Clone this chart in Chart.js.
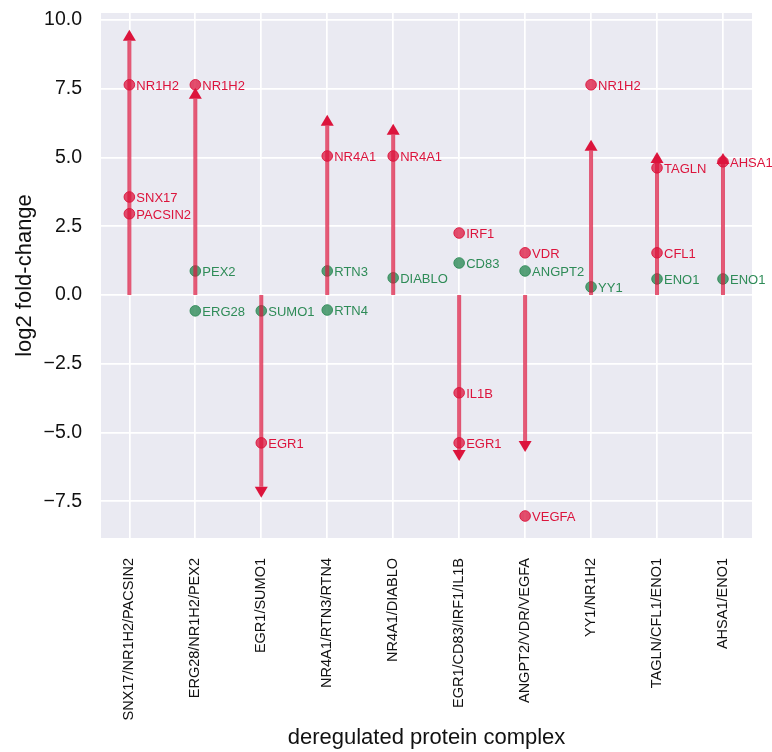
<!DOCTYPE html>
<html>
<head>
<meta charset="utf-8">
<script src="https://cdn.jsdelivr.net/npm/chart.js@4/dist/chart.umd.min.js"></script>
<style>
  html, body { margin: 0; padding: 0; background: #ffffff; }
  #wrap { width: 772px; height: 752px; }
</style>
</head>
<body>
<div id="wrap"><canvas id="chart"></canvas></div>
<script>
// Protein complexes along the x axis
const complexes = [
  'SNX17/NR1H2/PACSIN2', 'ERG28/NR1H2/PEX2', 'EGR1/SUMO1', 'NR4A1/RTN3/RTN4',
  'NR4A1/DIABLO', 'EGR1/CD83/IRF1/IL1B', 'ANGPT2/VDR/VEGFA', 'YY1/NR1H2',
  'TAGLN/CFL1/ENO1', 'AHSA1/ENO1'
];

// Overall complex shift (end of each arrow shaft), log2 fold-change
const arrowEnds = [9.24, 7.13, -6.98, 6.15, 5.82, -5.64, -5.31, 5.24, 4.80, 4.76];

// Strongly deregulated members (red)
const strongNames = [
  ['NR1H2', 'SNX17', 'PACSIN2'], ['NR1H2'], ['EGR1'], ['NR4A1'], ['NR4A1'],
  ['IRF1', 'IL1B', 'EGR1'], ['VDR', 'VEGFA'], ['NR1H2'], ['TAGLN', 'CFL1'], ['AHSA1']
];
const strongValues = [
  [7.64, 3.56, 2.95], [7.64], [-5.38], [5.05], [5.05],
  [2.25, -3.56, -5.38], [1.53, -8.04], [7.64], [4.62, 1.53], [4.84]
];

// Weakly deregulated members (green)
const weakNames = [
  [], ['PEX2', 'ERG28'], ['SUMO1'], ['RTN3', 'RTN4'], ['DIABLO'],
  ['CD83'], ['ANGPT2'], ['YY1'], ['ENO1'], ['ENO1']
];
const weakValues = [
  [], [0.87, -0.58], [-0.58], [0.87, -0.55], [0.62],
  [1.16], [0.87], [0.29], [0.58], [0.58]
];

// Y axis tick values
const yTicks = [-7.5, -5.0, -2.5, 0.0, 2.5, 5.0, 7.5, 10.0];

const RED = 'rgb(220,20,60)';
const GREEN = 'rgb(46,139,87)';
const FONT = '"Liberation Sans", Arial, Helvetica, sans-serif';

// Build datasets
const shaftData = [];
arrowEnds.forEach((end, i) => {
  shaftData.push({ x: i, y: 0 }, { x: i, y: end }, { x: i, y: null });
});
function pointsFrom(names, values) {
  const out = [];
  names.forEach((list, i) => {
    list.forEach((name, j) => out.push({ x: i, y: values[i][j], label: name }));
  });
  return out;
}
const strongPoints = pointsFrom(strongNames, strongValues);
const weakPoints = pointsFrom(weakNames, weakValues);

// Plot background
const backgroundPlugin = {
  id: 'plotBackground',
  beforeDraw(chart) {
    const { ctx, chartArea: a } = chart;
    ctx.save();
    ctx.fillStyle = '#EAEAF2';
    ctx.fillRect(a.left, a.top, a.right - a.left, a.bottom - a.top);
    ctx.restore();
  }
};

// Arrow heads at the end of each shaft
const arrowHeadPlugin = {
  id: 'arrowHeads',
  afterDatasetDraw(chart, args) {
    if (args.index !== 0) return;
    const { ctx } = chart;
    const xs = chart.scales.x, ys = chart.scales.y;
    const halfW = 6.5, len = 11;
    ctx.save();
    ctx.fillStyle = RED;
    arrowEnds.forEach((end, i) => {
      const px = xs.getPixelForValue(i);
      const py = ys.getPixelForValue(end);
      const dir = end >= 0 ? -1 : 1;
      ctx.beginPath();
      ctx.moveTo(px - halfW, py);
      ctx.lineTo(px + halfW, py);
      ctx.lineTo(px, py + dir * len);
      ctx.closePath();
      ctx.fill();
    });
    ctx.restore();
  }
};

// Gene names beside their points
const labelPlugin = {
  id: 'geneLabels',
  afterDatasetsDraw(chart) {
    const { ctx } = chart;
    const xs = chart.scales.x, ys = chart.scales.y;
    ctx.save();
    ctx.font = '13px ' + FONT;
    ctx.textAlign = 'left';
    ctx.textBaseline = 'middle';
    [[strongPoints, RED], [weakPoints, GREEN]].forEach(([pts, color]) => {
      ctx.fillStyle = color;
      pts.forEach(p => {
        ctx.fillText(p.label, xs.getPixelForValue(p.x) + 7, ys.getPixelForValue(p.y) + 1.5);
      });
    });
    ctx.restore();
  }
};

new Chart(document.getElementById('chart'), {
  type: 'scatter',
  data: {
    datasets: [
      {
        data: shaftData,
        showLine: true,
        spanGaps: false,
        borderColor: 'rgba(220,20,60,0.7)',
        borderWidth: 4,
        borderCapStyle: 'butt',
        pointRadius: 0,
        pointHoverRadius: 0
      },
      {
        data: strongPoints,
        pointRadius: 5.3,
        pointBackgroundColor: 'rgba(220,20,60,0.75)',
        pointBorderColor: 'rgba(220,20,60,0.9)',
        pointBorderWidth: 1
      },
      {
        data: weakPoints,
        pointRadius: 5.3,
        pointBackgroundColor: 'rgba(46,139,87,0.8)',
        pointBorderColor: 'rgba(46,139,87,0.9)',
        pointBorderWidth: 1
      }
    ]
  },
  options: {
    responsive: true,
    maintainAspectRatio: false,
    animation: false,
    events: [],
    layout: { padding: { top: 13, right: 20, left: 0, bottom: 0 } },
    plugins: {
      legend: { display: false },
      tooltip: { enabled: false }
    },
    scales: {
      x: {
        type: 'linear',
        min: -0.43,
        max: 9.44,
        afterBuildTicks(scale) { scale.ticks = complexes.map((c, i) => ({ value: i })); },
        afterFit(scale) {
          scale.height = 214;
          scale.paddingLeft = 0;
          scale.paddingRight = 0;
        },
        ticks: {
          autoSkip: false,
          maxRotation: 90,
          minRotation: 90,
          padding: 20,
          color: '#111111',
          font: { family: FONT, size: 14.5 },
          callback: (v) => complexes[v] !== undefined ? complexes[v] : ''
        },
        grid: { color: '#ffffff', lineWidth: 1.7, drawTicks: false },
        border: { display: false },
        title: {
          display: true,
          text: 'deregulated protein complex',
          color: '#111111',
          font: { family: FONT, size: 22 },
          padding: { top: 1, bottom: 1 }
        }
      },
      y: {
        type: 'linear',
        min: -8.84,
        max: 10.25,
        afterBuildTicks(scale) { scale.ticks = yTicks.map(v => ({ value: v })); },
        afterFit(scale) {
          scale.width = 101;
          scale.paddingTop = 0;
          scale.paddingBottom = 0;
        },
        ticks: {
          padding: 19,
          color: '#111111',
          font: { family: FONT, size: 19.5 },
          callback: (v) => v.toFixed(1).replace('-', '\u2212')
        },
        grid: { color: '#ffffff', lineWidth: 1.7, drawTicks: false },
        border: { display: false },
        title: {
          display: true,
          text: 'log2 fold-change',
          color: '#111111',
          font: { family: FONT, size: 22 },
          padding: { top: 12, bottom: 0 }
        }
      }
    }
  },
  plugins: [backgroundPlugin, arrowHeadPlugin, labelPlugin]
});
</script>
</body>
</html>
